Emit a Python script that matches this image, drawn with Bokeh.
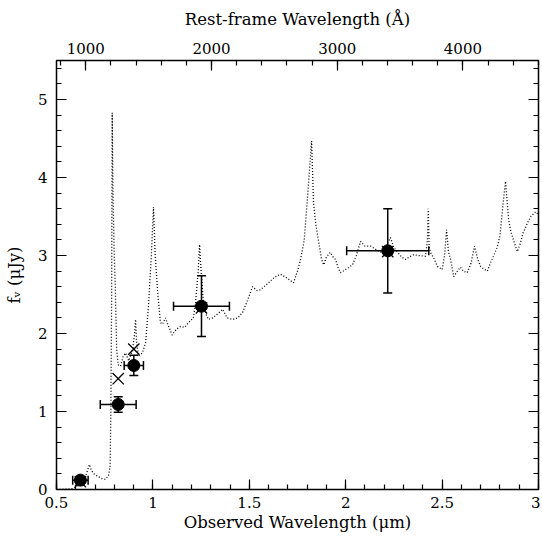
from bokeh.plotting import figure
from bokeh.models import (LinearAxis, Range1d, Whisker, ColumnDataSource, TeeHead,
                          SingleIntervalTicker, NumeralTickFormatter, CustomJSTickFormatter)
from bokeh.embed import file_html
from bokeh.resources import INLINE

# redshift factor (1+z) linking observed (um) and rest-frame (Angstrom) wavelengths
one_plus_z = 6.52

# model spectrum (observed wavelength in um, f_nu in uJy)
spec_wl = [0.50, 0.58, 0.60, 0.62, 0.64, 0.655, 0.671, 0.68, 0.695, 0.713, 0.735, 0.754, 0.77,
           0.778, 0.782, 0.786, 0.789, 0.793, 0.799, 0.805, 0.812, 0.82, 0.832, 0.845, 0.858,
           0.875, 0.895, 0.905, 0.91, 0.915, 0.925, 0.945, 0.962, 0.977, 0.992, 1.003, 1.012,
           1.024, 1.039, 1.05, 1.065, 1.08, 1.10, 1.12, 1.143, 1.165, 1.185, 1.21, 1.221, 1.235,
           1.242, 1.25, 1.262, 1.275, 1.288, 1.31, 1.335, 1.361, 1.385, 1.413, 1.44, 1.465, 1.49,
           1.517, 1.54, 1.558, 1.60, 1.63, 1.662, 1.69, 1.729, 1.75, 1.766, 1.785, 1.80, 1.815,
           1.823, 1.833, 1.845, 1.86, 1.875, 1.886, 1.90, 1.92, 1.935, 1.947, 1.96, 1.973, 2.00,
           2.035, 2.055, 2.077, 2.10, 2.129, 2.155, 2.18, 2.205, 2.232, 2.25, 2.27, 2.29, 2.31,
           2.33, 2.352, 2.38, 2.414, 2.424, 2.428, 2.433, 2.44, 2.46, 2.476, 2.50, 2.513, 2.523,
           2.533, 2.544, 2.56, 2.58, 2.595, 2.61, 2.63, 2.65, 2.668, 2.685, 2.70, 2.72, 2.735,
           2.75, 2.766, 2.785, 2.80, 2.817, 2.829, 2.837, 2.845, 2.857, 2.87, 2.89, 2.905, 2.92,
           2.94, 2.96, 2.985, 3.0]
spec_flux = [0.0, 0.01, 0.03, 0.08, 0.12, 0.2, 0.32, 0.25, 0.2, 0.17, 0.14, 0.13, 0.18,
             0.29, 1.0, 2.5, 4.83, 3.8, 3.05, 2.6, 1.8, 1.6, 1.58, 1.7, 1.75,
             1.65, 1.8, 2.0, 2.18, 1.9, 1.71, 1.75, 1.88, 2.35, 3.0, 3.62, 3.0,
             2.56, 2.14, 2.12, 2.2, 2.1, 1.98, 2.05, 2.09, 2.08, 2.14, 2.2, 2.39, 2.8,
             3.14, 2.8, 2.4, 2.25, 2.18, 2.2, 2.25, 2.31, 2.2, 2.18, 2.2, 2.27, 2.42,
             2.6, 2.55, 2.56, 2.65, 2.72, 2.76, 2.72, 2.65, 2.8, 2.95, 3.2, 3.68, 4.2,
             4.47, 3.68, 3.4, 3.17, 2.95, 2.88, 2.98, 3.04, 2.98, 2.95, 2.85, 2.78, 2.82,
             2.88, 3.0, 3.18, 3.12, 3.12, 3.08, 3.04, 3.1, 3.23, 3.1, 3.04, 2.98, 2.95,
             2.98, 3.01, 3.0, 2.99, 3.2, 3.6, 3.1, 3.04, 2.95, 2.86, 2.82, 3.0, 3.33,
             3.05, 2.95, 2.73, 2.8, 2.85, 2.8, 2.78, 2.9, 3.12, 2.95, 2.86, 2.82, 2.8,
             2.9, 2.99, 3.1, 3.25, 3.68, 3.95, 3.7, 3.46, 3.3, 3.2, 3.05, 3.15, 3.29,
             3.4, 3.5, 3.56, 3.52]

# photometry (filled circles with error bars)
phot_wl = [0.624, 0.820, 0.901, 1.252, 2.218]
phot_flux = [0.12, 1.09, 1.59, 2.35, 3.06]
phot_wl_err = [0.04, 0.093, 0.05, 0.145, 0.213]
phot_flux_err = [0.03, 0.10, 0.13, 0.39, 0.54]

# model-predicted fluxes (crosses)
model_wl = [0.624, 0.820, 0.901, 1.252, 2.218]
model_flux = [0.10, 1.42, 1.80, 2.33, 3.05]

FONT = "DejaVu Serif"
TICK_FS = "15px"
LABEL_FS = "16.5px"

p = figure(width=540, height=534, x_range=Range1d(0.5, 3.0), y_range=Range1d(0, 5.5),
           x_axis_location=None, y_axis_location=None,
           output_backend="svg", toolbar_location=None,
           min_border_left=56, min_border_top=60, min_border_right=2, min_border_bottom=44)
p.xgrid.visible = False
p.ygrid.visible = False
p.outline_line_color = "black"
p.outline_line_width = 1.5
p.background_fill_color = "white"
p.border_fill_color = "white"

p.extra_x_ranges = {"rest": Range1d(0.5e4 / one_plus_z, 3.0e4 / one_plus_z)}

bottom = LinearAxis(ticker=SingleIntervalTicker(interval=0.5, num_minor_ticks=5),
                    formatter=NumeralTickFormatter(format="0.[0]"),
                    axis_label="Observed Wavelength (μm)")
top = LinearAxis(x_range_name="rest", axis_label="Rest-frame Wavelength (Å)",
                 ticker=SingleIntervalTicker(interval=1000, num_minor_ticks=5))
left = LinearAxis(ticker=SingleIntervalTicker(interval=1, num_minor_ticks=5),
                  axis_label="f\u1d65 (μJy)")
right = LinearAxis(ticker=SingleIntervalTicker(interval=1, num_minor_ticks=5),
                   formatter=CustomJSTickFormatter(code="return ''"),
                   major_label_standoff=0)
p.add_layout(bottom, "below")
p.add_layout(top, "above")
p.add_layout(left, "left")
p.add_layout(right, "right")

for ax in [bottom, top, left, right]:
    ax.axis_line_color = None
    ax.major_tick_in = 10
    ax.major_tick_out = 0
    ax.minor_tick_in = 5
    ax.minor_tick_out = 0
    ax.major_tick_line_color = "black"
    ax.minor_tick_line_color = "black"
    ax.major_tick_line_width = 1.2
    ax.minor_tick_line_width = 1.2
    ax.major_label_text_font = FONT
    ax.major_label_text_font_size = TICK_FS
    ax.major_label_text_color = "black"
    ax.axis_label_text_font = FONT
    ax.axis_label_text_font_style = "normal"
    ax.axis_label_text_font_size = LABEL_FS
    ax.axis_label_text_color = "black"
bottom.major_label_standoff = 7
bottom.axis_label_standoff = 2
top.major_label_standoff = 7
top.axis_label_standoff = 11
left.major_label_standoff = 9
left.axis_label_standoff = 11

p.line(spec_wl, spec_flux, line_color="black", line_width=1.3, line_dash="1 2")

src = ColumnDataSource(dict(
    x=phot_wl, y=phot_flux,
    xlo=[a - b for a, b in zip(phot_wl, phot_wl_err)],
    xhi=[a + b for a, b in zip(phot_wl, phot_wl_err)],
    ylo=[a - b for a, b in zip(phot_flux, phot_flux_err)],
    yhi=[a + b for a, b in zip(phot_flux, phot_flux_err)],
))
p.add_layout(Whisker(source=src, base="y", lower="xlo", upper="xhi", dimension="width",
                     line_color="black", line_width=1.5,
                     lower_head=TeeHead(size=9, line_width=1.5, line_color="black"),
                     upper_head=TeeHead(size=9, line_width=1.5, line_color="black")))
p.add_layout(Whisker(source=src, base="x", lower="ylo", upper="yhi", dimension="height",
                     line_color="black", line_width=1.5,
                     lower_head=TeeHead(size=9, line_width=1.5, line_color="black"),
                     upper_head=TeeHead(size=9, line_width=1.5, line_color="black")))
p.scatter("x", "y", source=src, size=12, fill_color="black", line_color="black")
p.scatter(model_wl, model_flux, marker="x", size=16, line_color="black", line_width=1.3)

open("out.html", "w").write(file_html(p, INLINE))
